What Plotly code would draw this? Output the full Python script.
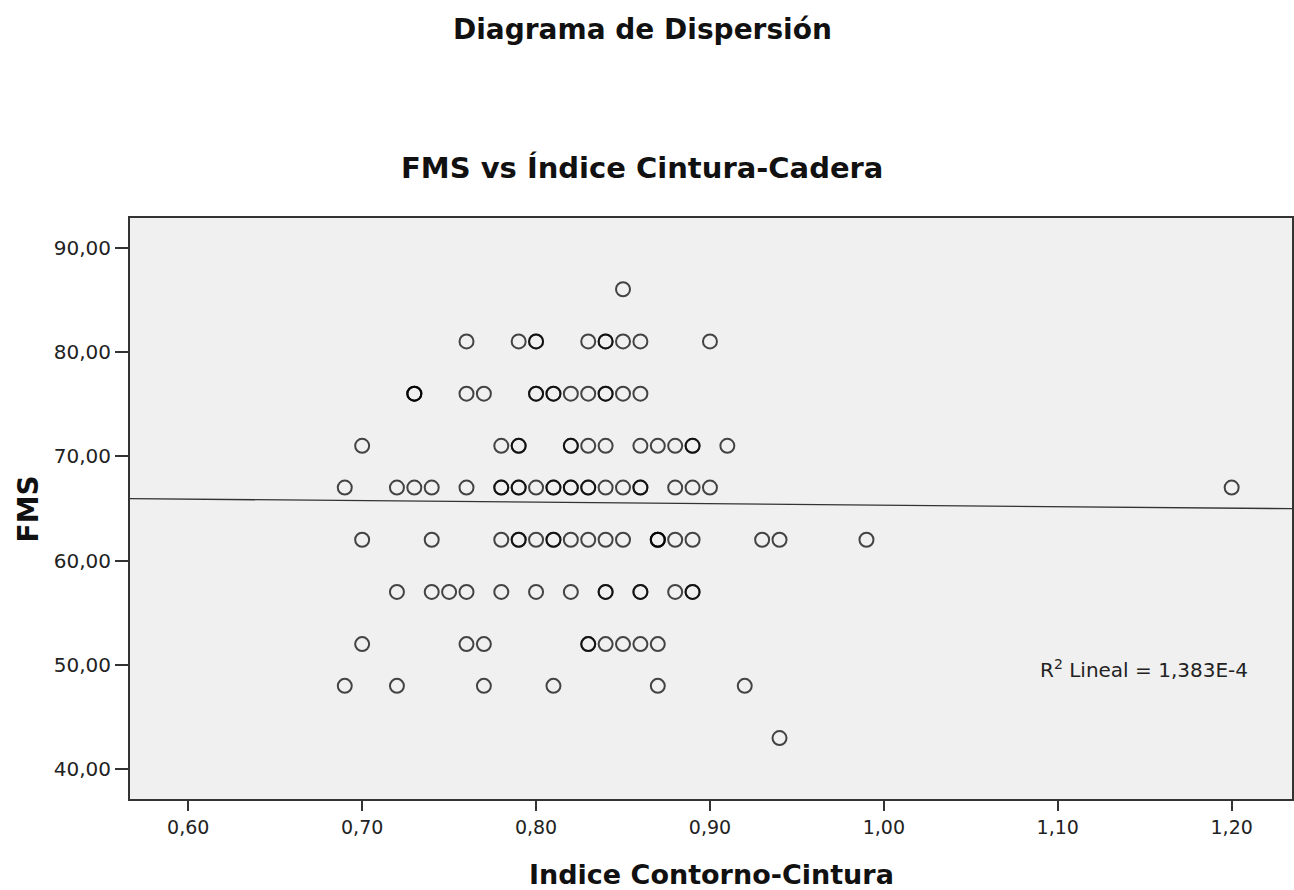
import numpy as np
import plotly.graph_objects as go

# ---- data (very dark circles counted as triples) ----
fms_levels = [86, 81, 76, 71, 67, 62, 57, 52, 48, 43]
icc_86 = [0.85]
icc_81 = [0.76, 0.79, 0.80, 0.80, 0.83, 0.84, 0.84, 0.85, 0.86, 0.90]
icc_76 = [0.73, 0.73, 0.73, 0.76, 0.77, 0.80, 0.80, 0.81, 0.81, 0.82, 0.83, 0.84, 0.84, 0.85, 0.86]
icc_71 = [0.70, 0.78, 0.79, 0.79, 0.82, 0.82, 0.83, 0.84, 0.86, 0.87, 0.88, 0.89, 0.89, 0.91]
icc_67 = [0.69, 0.72, 0.73, 0.74, 0.76, 0.78, 0.78, 0.79, 0.79, 0.80, 0.81, 0.81, 0.82, 0.82,
          0.83, 0.83, 0.84, 0.85, 0.86, 0.86, 0.88, 0.89, 0.90, 1.20]
icc_62 = [0.70, 0.74, 0.78, 0.79, 0.79, 0.80, 0.81, 0.81, 0.82, 0.83, 0.84, 0.85, 0.87, 0.87,
          0.87, 0.88, 0.89, 0.93, 0.94, 0.99]
icc_57 = [0.72, 0.74, 0.75, 0.76, 0.78, 0.80, 0.82, 0.84, 0.84, 0.86, 0.86, 0.88, 0.89, 0.89]
icc_52 = [0.70, 0.76, 0.77, 0.83, 0.83, 0.84, 0.85, 0.86, 0.87]
icc_48 = [0.69, 0.72, 0.77, 0.81, 0.87, 0.92]
icc_43 = [0.94]

rows = [icc_86, icc_81, icc_76, icc_71, icc_67, icc_62, icc_57, icc_52, icc_48, icc_43]
x_vals = []
y_vals = []
for lvl, xs in zip(fms_levels, rows):
    x_vals += xs
    y_vals += [lvl] * len(xs)
x_vals = np.array(x_vals)
y_vals = np.array(y_vals, dtype=float)

x_range = [0.5665, 1.2347]
y_range = [37.16, 92.83]
x_ticks = [0.60, 0.70, 0.80, 0.90, 1.00, 1.10, 1.20]
y_ticks = [40, 50, 60, 70, 80, 90]
r2_text = "R<sup>2</sup> Lineal = 1,383E-4"

slope, intercept = np.polyfit(x_vals, y_vals, 1)
fit_x = np.array(x_range)
fit_y = intercept + slope * fit_x

FONT = "DejaVu Sans"

fig = go.Figure()
fig.add_trace(go.Scatter(
    x=fit_x, y=fit_y, mode="lines",
    line=dict(color="#333333", width=1.3),
    hoverinfo="skip", showlegend=False,
))
fig.add_trace(go.Scatter(
    x=x_vals, y=y_vals, mode="markers",
    marker=dict(symbol="circle-open", size=14, color="rgba(0,0,0,0.72)",
                line=dict(width=2, color="rgba(0,0,0,0.72)")),
    showlegend=False,
))

fig.update_layout(
    width=1294, height=890,
    margin=dict(l=130, r=0, t=218, b=91),
    paper_bgcolor="white",
    plot_bgcolor="#f0f0f0",
    separators=",.",
    font=dict(family=FONT, color="#222"),
    xaxis=dict(range=x_range, tickvals=x_ticks, tickformat=".2f",
               showgrid=False, zeroline=False, showline=True, mirror=True,
               linecolor="#333", linewidth=2, ticks="outside", ticklen=10,
               tickwidth=2, tickcolor="#333",
               tickfont=dict(family=FONT, size=19, color="#222")),
    yaxis=dict(range=y_range, tickvals=y_ticks, tickformat=".2f",
               showgrid=False, zeroline=False, showline=True, mirror=True,
               linecolor="#333", linewidth=2, ticks="outside", ticklen=13,
               tickwidth=2, tickcolor="#333",
               tickfont=dict(family=FONT, size=20, color="#222")),
    annotations=[
        dict(text="<b>Diagrama de Dispersión</b>", xref="paper", yref="paper",
             x=0.4407, y=1.325, xanchor="center", yanchor="middle", showarrow=False,
             font=dict(family=FONT, size=28, color="#111")),
        dict(text="<b>FMS vs Índice Cintura-Cadera</b>", xref="paper", yref="paper",
             x=0.4407, y=1.086, xanchor="center", yanchor="middle", showarrow=False,
             font=dict(family=FONT, size=29, color="#111")),
        dict(text="<b>Indice Contorno-Cintura</b>", xref="paper", yref="paper",
             x=0.5, y=-0.13, xanchor="center", yanchor="middle", showarrow=False,
             font=dict(family=FONT, size=27, color="#111")),
        dict(text="<b>FMS</b>", xref="paper", yref="paper", textangle=-90,
             x=-0.087, y=0.5, xanchor="center", yanchor="middle", showarrow=False,
             font=dict(family=FONT, size=28, color="#111")),
        dict(text=r2_text, xref="paper", yref="y",
             x=0.781, y=49.6, xanchor="left", yanchor="middle", showarrow=False,
             font=dict(family=FONT, size=20, color="#222")),
    ],
)

fig.write_html("out.html")
